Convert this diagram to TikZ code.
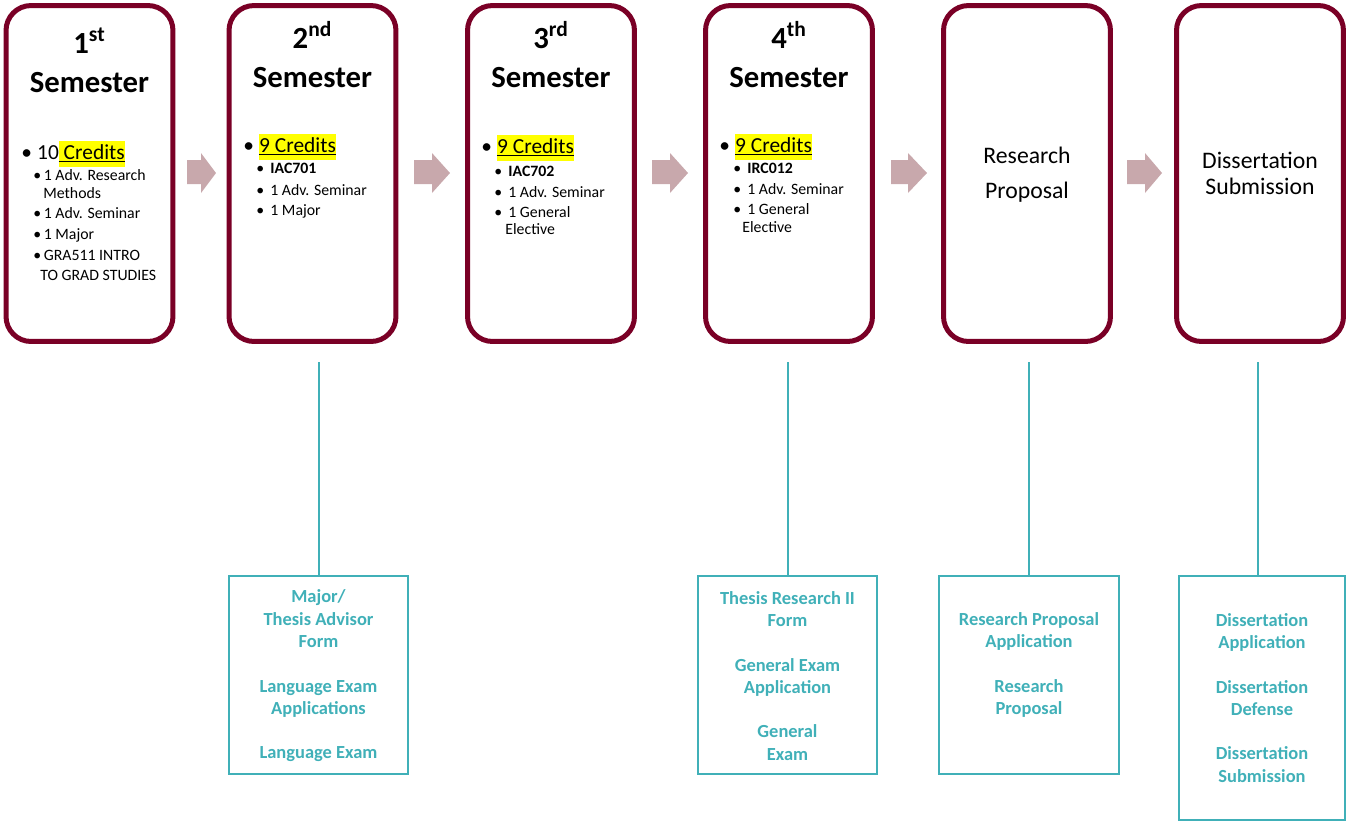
\documentclass[tikz,border=0pt]{standalone}
\usepackage{fontspec}
\setmainfont{Carlito}
\definecolor{maroon}{RGB}{122,0,38}
\definecolor{arrowpink}{RGB}{200,168,172}
\definecolor{formteal}{RGB}{64,176,184}
\definecolor{hlyellow}{RGB}{255,255,0}

\newcommand{\titlesize}{\fontsize{17.5pt}{21pt}\selectfont\bfseries}
\newcommand{\creditsize}{\fontsize{12.2pt}{14.6pt}\selectfont}
\newcommand{\itemsize}{\fontsize{9pt}{10.8pt}\selectfont}
\newcommand{\stepsize}{\fontsize{13.5pt}{16pt}\selectfont}
\newcommand{\formsize}{\fontsize{10.5pt}{12.75pt}\selectfont\bfseries}
\newcommand{\bul}[1]{\makebox[#1][l]{\textbullet}}
\newcommand{\hlcredits}[1]{{\setlength{\fboxsep}{0pt}\colorbox{hlyellow}{\strut\underline{#1}}}}
\newcommand{\steparrow}[3]{\fill[flowarrow] (#1,160) -- (#2,160) -- (#2,153) -- (#3,173) -- (#2,193) -- (#2,184) -- (#1,184) -- cycle;}

\begin{document}
\begin{tikzpicture}[x=0.02cm, y=-0.02cm,
    semester/.style={draw=maroon, line width=0.1cm, rounded corners=0.5cm, minimum width=3.34cm, minimum height=6.72cm, inner sep=0pt},
    formbox/.style={draw=formteal, line width=0.04cm, minimum width=3.58cm, minimum height=3.96cm, inner sep=0pt},
    stem/.style={draw=formteal, line width=0.04cm},
    heading/.style={anchor=base, font=\titlesize, inner sep=0pt},
    credits/.style={anchor=base west, font=\creditsize, inner sep=0pt},
    course/.style={anchor=base west, font=\itemsize, inner sep=0pt},
    steptext/.style={anchor=base, font=\stepsize, inner sep=0pt},
    formtext/.style={align=center, font=\formsize, text=formteal, inner sep=0pt},
    flowarrow/.style={fill=arrowpink}]
      \useasboundingbox (0,0) rectangle (1347,822);
      %
      \node[semester] (sem1) at (89.5,173.5) {};
      \node[semester] (sem2) at (312.5,173.5) {};
      \node[semester] (sem3) at (551,173.5) {};
      \node[semester] (sem4) at (789,173.5) {};
      \node[semester] (sem5) at (1027,173.5) {};
      \node[semester] (sem6) at (1260,173.5) {};
      %
      \steparrow{187}{201}{216}
      \steparrow{414}{432}{450}
      \steparrow{652}{670}{688}
      \steparrow{891}{908}{927}
      \steparrow{1127}{1145}{1162}
      %
      \node[heading] (ord1) at (89.5,53) {1\textsuperscript{st}};
      \node[heading] (sm1) at (89.5,92) {Semester};
      \node[credits] (cr1) at (21,159) {\bul{9pt}10\hlcredits{\ Credits}};
      \node[course] (c1a) at (33,180) {\bul{6pt}1 Adv. Research};
      \node[course] (c1b) at (43,198) {Methods};
      \node[course] (c1c) at (33,218) {\bul{6pt}1 Adv. Seminar};
      \node[course] (c1d) at (33,239) {\bul{6pt}1 Major};
      \node[course] (c1e) at (33,260) {\bul{6pt}GRA511 INTRO};
      \node[course] (c1f) at (40,280) {TO GRAD STUDIES};
      %
      \node[heading] (ord2) at (312.5,48) {2\textsuperscript{nd}};
      \node[heading] (sm2) at (312.5,87) {Semester};
      \node[credits] (cr2) at (243,152) {\bul{9pt}\hlcredits{9 Credits}};
      \node[course] (c2a) at (256,173) {\bul{8pt}\textbf{IAC701}};
      \node[course] (c2b) at (256,195) {\bul{8pt}1 Adv. Seminar};
      \node[course] (c2c) at (256,215) {\bul{8pt}1 Major};
      %
      \node[heading] (ord3) at (551,48) {3\textsuperscript{rd}};
      \node[heading] (sm3) at (551,87) {Semester};
      \node[credits] (cr3) at (481,153) {\bul{9pt}\hlcredits{9 Credits}};
      \node[course] (c3a) at (494,176) {\bul{8pt}\textbf{IAC702}};
      \node[course] (c3b) at (494,197) {\bul{8pt}1 Adv. Seminar};
      \node[course] (c3c) at (494,217) {\bul{8pt}1 General};
      \node[course] (c3d) at (505,234) {Elective};
      %
      \node[heading] (ord4) at (789,48) {4\textsuperscript{th}};
      \node[heading] (sm4) at (789,87) {Semester};
      \node[credits] (cr4) at (719,152) {\bul{9pt}\hlcredits{9 Credits}};
      \node[course] (c4a) at (733,173) {\bul{8pt}\textbf{IRC012}};
      \node[course] (c4b) at (733,194) {\bul{8pt}1 Adv. Seminar};
      \node[course] (c4c) at (733,214) {\bul{8pt}1 General};
      \node[course] (c4d) at (742,232) {Elective};
      %
      \node[steptext] (rp1) at (1027,163) {Research};
      \node[steptext] (rp2) at (1027,198) {Proposal};
      \node[steptext] (ds1) at (1260,168) {Dissertation};
      \node[steptext] (ds2) at (1260,194) {Submission};
      %
      \node[formbox] (formA) at (318.5,675) {};
      \node[formbox] (formB) at (787.5,675) {};
      \node[formbox, minimum width=3.6cm] (formC) at (1029,675) {};
      \node[formbox, minimum width=3.32cm, minimum height=4.88cm] (formD) at (1262,698) {};
      %
      \node[formtext] (fA) at (318.5,676) {Major/\\Thesis Advisor\\Form\\[12.5pt]Language Exam\\Applications\\[12.5pt]Language Exam};
      \node[formtext] (fB) at (787.5,676) {Thesis Research II\\Form\\[12.5pt]General Exam\\Application\\[12.5pt]General\\Exam};
      \node[formtext] (fC) at (1029,665) {Research Proposal\\Application\\[12.5pt]Research\\Proposal};
      \node[formtext] (fD) at (1262,698) {Dissertation\\Application\\[12.5pt]Dissertation\\Defense\\[12.5pt]Dissertation\\Submission};
      %
      \coordinate (stemtop) at (0,362);
      \draw[stem] (formA.north) -- (formA.north |- stemtop);
      \draw[stem] (formB.north) -- (formB.north |- stemtop);
      \draw[stem] (formC.north) -- (formC.north |- stemtop);
      \draw[stem] ([xshift=-0.08cm]formD.north) -- ([xshift=-0.08cm]formD.north |- stemtop);
    \end{tikzpicture}
\end{document}
